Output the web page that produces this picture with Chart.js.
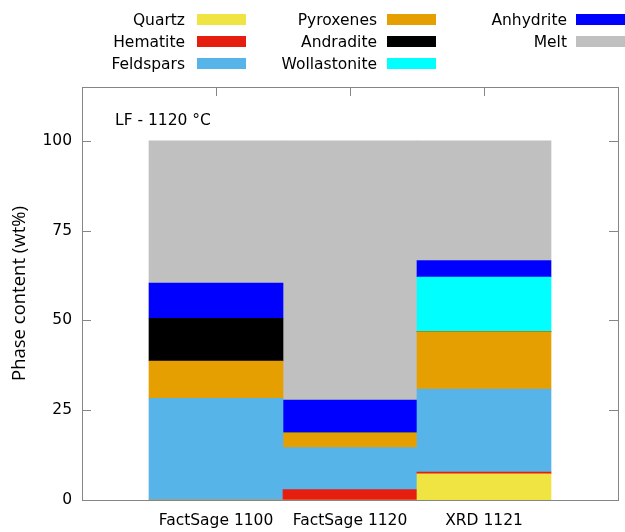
<!DOCTYPE html>
<html>
<head>
<meta charset="utf-8">
<script src="https://cdn.jsdelivr.net/npm/chart.js@4"></script>
<style>
  html, body { margin: 0; padding: 0; background: #fff; }
  #wrap { width: 625px; height: 532px; }
</style>
</head>
<body>
<div id="wrap"><canvas id="phaseChart" width="625" height="532"></canvas></div>
<script>
const categories = ['FactSage 1100', 'FactSage 1120', 'XRD 1121'];
const phases = ['Quartz', 'Hematite', 'Feldspars', 'Pyroxenes', 'Andradite', 'Wollastonite', 'Anhydrite', 'Melt'];
const phaseColors = ['#f0e442', '#e51e10', '#56b4e9', '#e69f00', '#000000', '#00ffff', '#0000ff', '#c0c0c0'];

// wt% per phase, one value per category
const quartz = [0, 0, 7.3];
const hematite = [0, 2.9, 0.5];
const feldspars = [28.3, 11.7, 23.1];
const pyroxenes = [10.4, 4.1, 16.0];
const andradite = [11.9, 0, 0];
const wollastonite = [0, 0, 15.2];
const anhydrite = [9.8, 9.1, 4.6];
const melt = [39.6, 72.2, 33.3];

const yTicks = [0, 25, 50, 75, 100];
const annotation = 'LF - 1120 °C';

const series = [quartz, hematite, feldspars, pyroxenes, andradite, wollastonite, anhydrite, melt];
// empty slot on each side so the bars sit at -1..3 like the original
const labels = [''].concat(categories, ['']);

const datasets = phases.map((name, i) => ({
    label: name,
    data: [null].concat(series[i], [null]),
    backgroundColor: phaseColors[i],
    borderWidth: 0,
    categoryPercentage: 1,
    barPercentage: 1
}));

const FONT = 'DejaVu Sans';
const frameColor = '#868686';

const frameAndLegend = {
    id: 'frameAndLegend',
    beforeDatasetsDraw(chart) {
        const ctx = chart.ctx;
        const a = chart.chartArea;
        const y = chart.scales.y;
        const x = chart.scales.x;
        ctx.save();
        ctx.strokeStyle = frameColor;
        ctx.lineWidth = 1;
        ctx.beginPath();
        yTicks.forEach(v => {
            const py = Math.round(y.getPixelForValue(v)) + 0.5;
            ctx.moveTo(a.left, py); ctx.lineTo(a.left + 9, py);
            ctx.moveTo(a.right, py); ctx.lineTo(a.right - 9, py);
        });
        categories.forEach((c, i) => {
            const px = Math.round(x.getPixelForValue(i + 1)) + 0.5;
            ctx.moveTo(px, a.top); ctx.lineTo(px, a.top + 9);
            ctx.moveTo(px, a.bottom); ctx.lineTo(px, a.bottom - 9);
        });
        ctx.stroke();
        ctx.restore();
    },
    afterDraw(chart) {
        const ctx = chart.ctx;
        const a = chart.chartArea;
        ctx.save();
        ctx.strokeStyle = frameColor;
        ctx.lineWidth = 1;
        ctx.strokeRect(Math.round(a.left) + 0.5, Math.round(a.top) + 0.5,
            Math.round(a.right - a.left), Math.round(a.bottom - a.top));

        // annotation inside the plot
        ctx.fillStyle = '#000';
        ctx.font = '15.5px "' + FONT + '"';
        ctx.textAlign = 'left';
        ctx.textBaseline = 'middle';
        ctx.fillText(annotation, a.left + 33, a.top + 34);

        // legend: 3 columns, text right-aligned before the swatch
        const textRight = [185, 377, 567];
        const swatchLeft = [197, 387, 576];
        const rowY = [19.5, 41.5, 63.5];
        ctx.textAlign = 'right';
        chart.data.datasets.forEach((ds, i) => {
            const col = Math.floor(i / 3);
            const row = i % 3;
            ctx.fillStyle = '#000';
            ctx.fillText(ds.label, textRight[col], rowY[row] + 1);
            ctx.fillStyle = ds.backgroundColor;
            ctx.fillRect(swatchLeft[col], rowY[row] - 5.5, 49, 11);
        });
        ctx.restore();
    }
};

new Chart(document.getElementById('phaseChart').getContext('2d'), {
    type: 'bar',
    data: { labels: labels, datasets: datasets },
    options: {
        responsive: false,
        animation: false,
        layout: { padding: { top: 87, right: 7, left: 0, bottom: 0 } },
        plugins: { legend: { display: false }, tooltip: { enabled: false } },
        scales: {
            x: {
                stacked: true,
                offset: false,
                grid: { display: false, drawTicks: false },
                border: { display: false },
                ticks: {
                    autoSkip: false, maxRotation: 0, padding: 12,
                    color: '#000', font: { family: FONT, size: 15.5 }
                },
                afterFit: s => { s.height = 32; s.paddingLeft = 0; s.paddingRight = 0; }
            },
            y: {
                stacked: true,
                min: 0,
                max: 115,
                grid: { display: false, drawTicks: false },
                border: { display: false },
                ticks: {
                    stepSize: 25, includeBounds: false, padding: 10,
                    color: '#000', font: { family: FONT, size: 15.5 }
                },
                title: {
                    display: true, text: 'Phase content (wt%)', color: '#000',
                    font: { family: 'Open Sans', size: 18.5 },
                    padding: { top: 9, bottom: 0 }
                },
                afterFit: s => { s.width = 82; }
            }
        }
    },
    plugins: [frameAndLegend]
});
</script>
</body>
</html>
